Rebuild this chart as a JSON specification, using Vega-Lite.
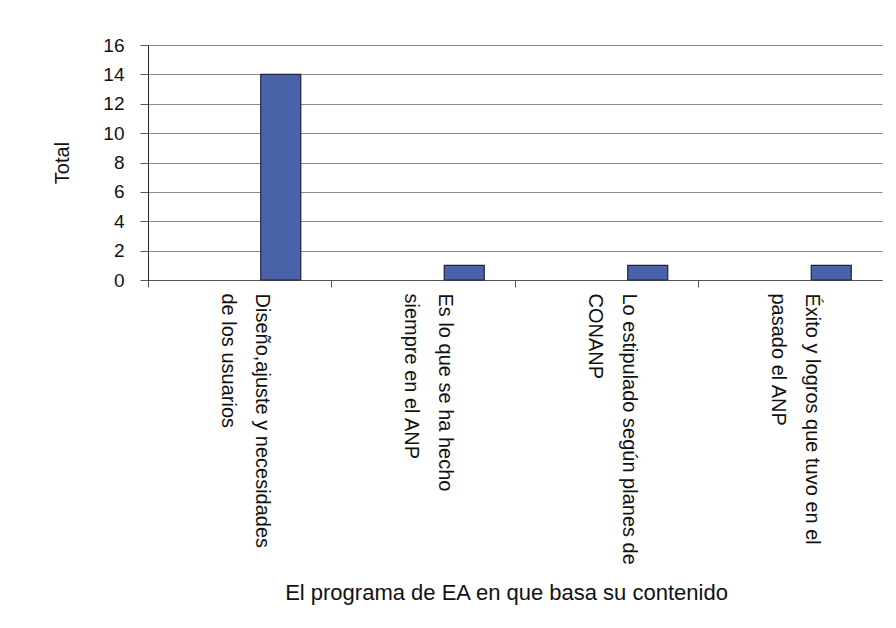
{
  "$schema": "https://vega.github.io/schema/vega-lite/v6.json",
  "width": 734,
  "height": 235,
  "autosize": {"type": "none"},
  "padding": {"left": 148, "top": 45, "right": 14, "bottom": 348},
  "background": "white",
  "data": {"values": [
    {"programa": "Diseño,ajuste y necesidades|de los usuarios", "total": 14},
    {"programa": "Es lo que  se  ha hecho|siempre en el ANP", "total": 1},
    {"programa": "Lo estipulado según planes de|CONANP", "total": 1},
    {"programa": "Éxito y logros que tuvo en el|pasado el ANP", "total": 1}
  ]},
  "mark": {"type": "bar", "color": "#4a63a8", "stroke": "#1c2340", "strokeWidth": 1.2, "width": 40, "xOffset": 41},
  "encoding": {
    "x": {
      "field": "programa", "type": "nominal", "sort": null,
      "scale": {"paddingInner": 0, "paddingOuter": 0},
      "axis": {
        "title": "El programa de EA en que basa su contenido",
        "titleFont": "Liberation Sans", "titleFontSize": 22, "titleFontWeight": "normal", "titleColor": "#111",
        "titlePadding": 102, "titleX": 358,
        "labelExpr": "split(datum.label, '|')",
        "labelAngle": 90, "labelAlign": "left", "labelBaseline": "middle",
        "labelFont": "Liberation Sans", "labelFontSize": 20, "labelColor": "#111",
        "labelLineHeight": 34, "labelPadding": 6, "labelLimit": 0, "labelOffset": 22,
        "bandPosition": 0, "tickSize": 7, "tickColor": "#555",
        "domainColor": "#555", "grid": false
      }
    },
    "y": {
      "field": "total", "type": "quantitative",
      "scale": {"domain": [0, 16], "nice": false},
      "axis": {
        "title": "Total", "titleFont": "Liberation Sans", "titleFontSize": 20, "titleFontWeight": "normal", "titleColor": "#111",
        "titlePadding": 30,
        "values": [0, 2, 4, 6, 8, 10, 12, 14, 16],
        "labelFont": "Liberation Sans", "labelFontSize": 19, "labelColor": "#111", "labelPadding": 16,
        "tickSize": 8, "tickColor": "#555", "domainColor": "#222",
        "grid": true, "gridColor": "#8a8a8a", "gridWidth": 1
      }
    }
  },
  "config": {"view": {"stroke": null}}
}
